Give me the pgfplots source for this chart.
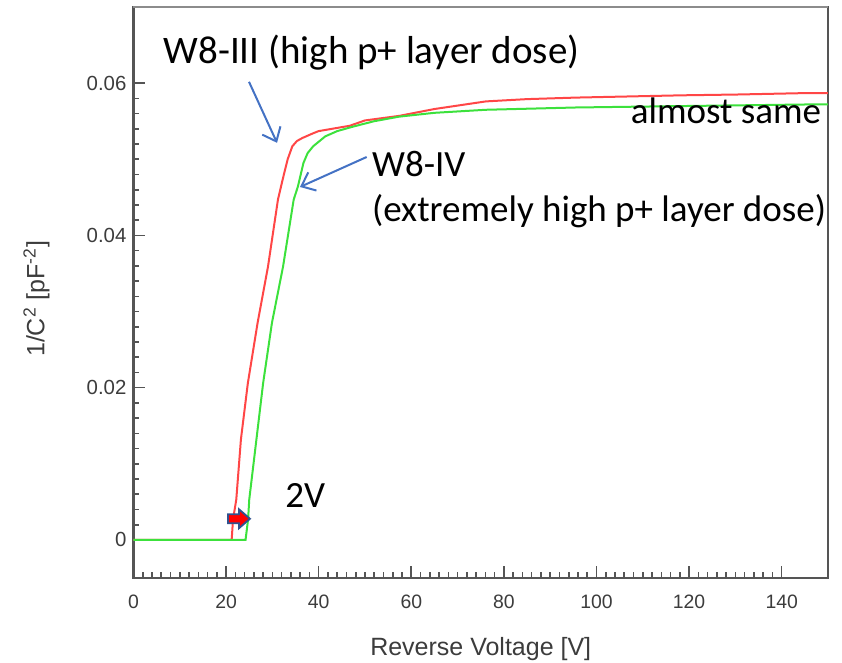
\documentclass[border=0pt]{standalone}
\usepackage{pgfplots}
\pgfplotsset{compat=1.18}
\usetikzlibrary{arrows.meta}
\usepackage{fontspec}
\setmainfont{Liberation Sans}
\newfontfamily\calfont{Carlito}
\definecolor{redline}{RGB}{255,70,70}
\definecolor{greenline}{RGB}{60,225,60}
\definecolor{annblue}{RGB}{68,114,196}
\definecolor{spine}{RGB}{85,85,85}
\definecolor{topspine}{RGB}{140,140,140}
\definecolor{ticklab}{RGB}{60,60,60}
\definecolor{arrowedge}{RGB}{47,82,143}
\begin{document}
\begin{tikzpicture}
\useasboundingbox (-66.75pt,-42.5pt) rectangle (354.25pt,289pt);
\begin{axis}[
  scale only axis, width=347.25pt, height=285.5pt,
  xmin=0, xmax=150, ymin=-0.005, ymax=0.07,
  xtick={0,20,...,140},
  ytick={0,0.02,0.04,0.06}, yticklabels={0,0.02,0.04,0.06},
  minor x tick num=9, minor y tick num=9,
  tick pos=left, tick align=inside,
  major tick length=6pt, minor tick length=3pt,
  every tick/.style={spine, line width=0.8pt},
  axis line style={spine, line width=1.2pt},
  tick label style={font=\fontsize{9.7}{11}\selectfont, text=ticklab},
  yticklabel style={font=\fontsize{10.2}{11}\selectfont},
  xticklabel style={yshift=-5pt},
  /pgf/number format/assume math mode=true,
  xlabel={Reverse Voltage [V]},
  ylabel={1/C\textsuperscript{2} [pF\textsuperscript{-2}]},
  label style={font=\fontsize{12.5}{14}\selectfont, text=ticklab},
  xlabel style={at={(axis description cs:0.5,-0.1349)}, anchor=base},
  ylabel style={at={(axis description cs:-0.1397,0.489)}, anchor=center},
  clip=false,
]
\addplot[redline, line width=1pt, no marks] coordinates {
 (0,0) (21.2,0) (21.5,0.0027) (22.2,0.0053) (23.2,0.0132) (24.7,0.0206)
 (26.8,0.0285) (29.05,0.0359) (31.2,0.0447) (32.2,0.0473) (33.3,0.0500)
 (34.3,0.0517) (35.3,0.0524) (36.5,0.0528) (38.75,0.0534) (40,0.0537)
 (46.7,0.0544) (50,0.0551) (57.4,0.0557) (65,0.0566) (76.1,0.0576)
 (85,0.0579) (95.5,0.0581) (118.5,0.0584) (130,0.0585) (145.8,0.0587) (150,0.0587)
};
\addplot[greenline, line width=1pt, no marks] coordinates {
 (0,0) (24.2,0) (24.75,0.0027) (25.0,0.0053) (26.55,0.0132) (28.0,0.0206)
 (29.9,0.0285) (32.3,0.0359) (34.6,0.0447) (35.5,0.0464) (36.7,0.0495)
 (37.6,0.0508) (38.8,0.0517) (41.4,0.0530) (44,0.0537) (47.5,0.0543)
 (52,0.0550) (57.4,0.0556) (65,0.0561) (76.1,0.0565) (95.5,0.0568)
 (120,0.0570) (145.8,0.0572) (150,0.0572)
};
\node[anchor=base west, inner sep=0, font=\calfont\fontsize{19.5}{22}\selectfont] at (axis cs:6.44,0.06263) {W8-III (high p+ layer dose)};
\node[anchor=base west, inner sep=0, font=\calfont\fontsize{18.5}{21}\selectfont] at (axis cs:51.45,0.04775) {W8-IV};
\node[anchor=base west, inner sep=0, font=\calfont\fontsize{18.5}{21}\selectfont] at (axis cs:51.45,0.04185) {(extremely high p+ layer dose)};
\node[anchor=base east, inner sep=0, font=\calfont\fontsize{18.5}{21}\selectfont] at (axis cs:148.6,0.05466) {almost same};
\node[anchor=base west, inner sep=0, font=\calfont\fontsize{18.5}{21}\selectfont] at (axis cs:32.7,0.00429) {2V};
\draw[annblue, line width=1pt, -{Straight Barb[length=6pt,width=10pt]}] (axis cs:24.95,0.06017) -- (axis cs:31.0,0.05216);
\draw[annblue, line width=1pt, -{Straight Barb[length=6pt,width=10pt]}] (axis cs:50.37,0.0503) -- (axis cs:35.96,0.04636);
\coordinate (ba) at (axis cs:20.4,0.00278);
\coordinate (tl) at (rel axis cs:0,1);
\coordinate (tr) at (rel axis cs:1,1);
\end{axis}
\draw[topspine, line width=1pt] (tl) -- (tr);
\draw[arrowedge, fill=red, line width=0.9pt, line join=miter] (ba) ++(0,2.25pt) -- ++(5.5pt,0) -- ++(0,2.5pt) -- ++(5.5pt,-4.75pt) -- ++(-5.5pt,-4.75pt) -- ++(0,2.5pt) -- ++(-5.5pt,0) -- cycle;
\end{tikzpicture}
\end{document}
